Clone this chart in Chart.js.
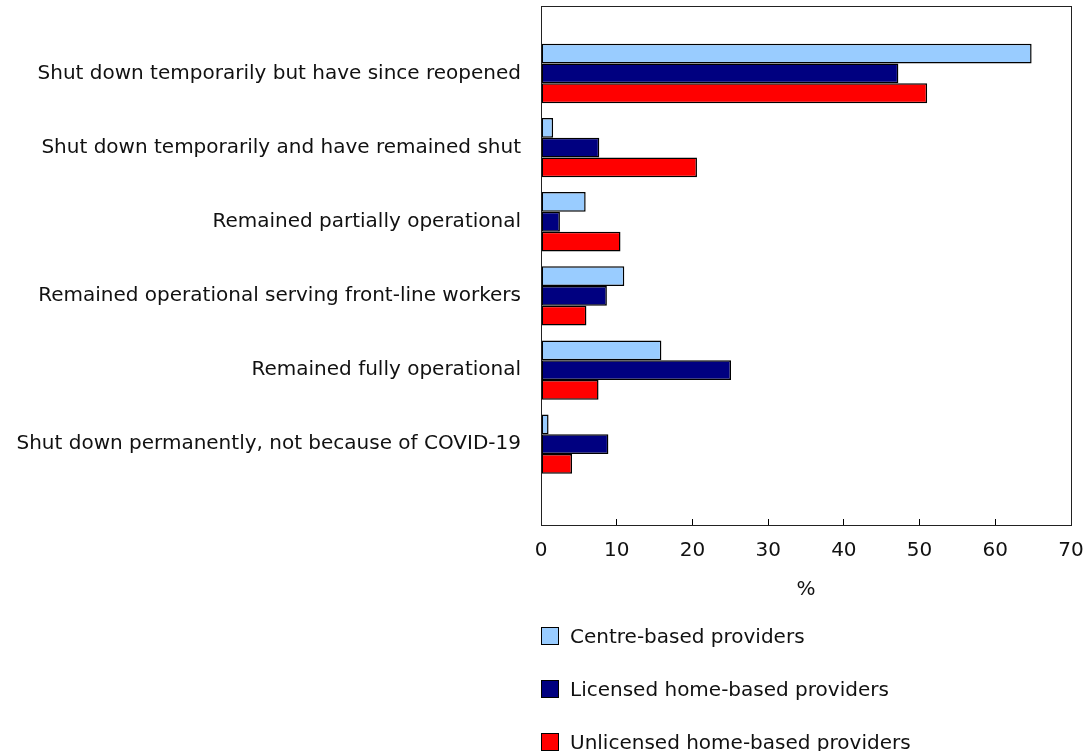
<!DOCTYPE html>
<html>
<head>
<meta charset="utf-8">
<script src="https://cdn.jsdelivr.net/npm/chart.js@4/dist/chart.umd.min.js"></script>
<style>
  html, body { margin: 0; padding: 0; background: #fff; }
  #wrap { position: relative; width: 1085px; height: 751px; }
  canvas { position: absolute; left: 0; top: 0; }
  #legend { position: absolute; left: 541px; top: 624px; font-family: "DejaVu Sans", Verdana, sans-serif; font-size: 20px; color: #111; }
  .item { display: flex; align-items: center; height: 24px; margin-bottom: 29px; white-space: nowrap; }
  .box { width: 18px; height: 18px; border: 1px solid #000; margin-right: 11px; box-sizing: border-box; flex: none; }
</style>
</head>
<body>
<div id="wrap">
  <canvas id="c" width="1085" height="751"></canvas>
  <div id="legend"></div>
</div>
<script>
const categories = [
  "Shut down temporarily but have since reopened",
  "Shut down temporarily and have remained shut",
  "Remained partially operational",
  "Remained operational serving front-line workers",
  "Remained fully operational",
  "Shut down permanently, not because of COVID-19"
];
const centreBased = [64.8, 1.6, 5.9, 11.0, 15.9, 1.0];
const licensedHome = [47.2, 7.7, 2.5, 8.7, 25.1, 8.9];
const unlicensedHome = [51.0, 20.6, 10.5, 6.0, 7.6, 4.1];
const seriesNames = ["Centre-based providers", "Licensed home-based providers", "Unlicensed home-based providers"];
const xTicks = [0, 10, 20, 30, 40, 50, 60, 70];

const FONT = '"DejaVu Sans", Verdana, sans-serif';
const yPos = categories.map((_, i) => i + 0.91);
const toPts = arr => arr.map((v, i) => ({ x: v, y: yPos[i] }));

const frame = {
  id: 'frame',
  afterDraw(chart) {
    const a = chart.chartArea, ctx = chart.ctx;
    ctx.save();
    ctx.strokeStyle = '#222';
    ctx.lineWidth = 1;
    ctx.strokeRect(Math.round(a.left) + 0.5, Math.round(a.top) + 0.5, Math.round(a.right - a.left), Math.round(a.bottom - a.top));
    ctx.restore();
  }
};

const colors = ['#99ccff', '#000080', '#ff0000'];
const chart = new Chart(document.getElementById('c'), {
  type: 'bar',
  data: {
    datasets: [centreBased, licensedHome, unlicensedHome].map((arr, k) => ({
      label: seriesNames[k],
      data: toPts(arr),
      backgroundColor: colors[k],
      borderColor: '#000',
      borderWidth: 1.5,
      borderSkipped: false,
      categoryPercentage: 0.8,
      barPercentage: 1.0
    }))
  },
  options: {
    indexAxis: 'y',
    responsive: false,
    animation: false,
    layout: { padding: { top: 6, right: 14, left: 0, bottom: 146 } },
    plugins: { legend: { display: false }, tooltip: { enabled: false } },
    scales: {
      x: {
        type: 'linear',
        min: 0, max: 70,
        afterBuildTicks: s => { s.ticks = xTicks.map(v => ({ value: v })); },
        afterFit: s => { s.height = 80; s.paddingLeft = 0; s.paddingRight = 0; },
        grid: { drawOnChartArea: false, drawTicks: true, tickLength: -6, color: '#000', tickWidth: 1 },
        border: { display: true, color: '#000', width: 1 },
        ticks: { color: '#111', font: { family: FONT, size: 20 }, padding: 20, autoSkip: false, maxRotation: 0 },
        title: { display: true, text: '%', color: '#111', font: { family: FONT, size: 20 }, padding: { top: 0, bottom: 3 } }
      },
      y: {
        type: 'linear',
        reverse: true,
        offset: false,
        min: 0, max: 7,
        afterBuildTicks: s => { s.ticks = yPos.map(v => ({ value: v })); },
        afterFit: s => { s.width = 541; s.paddingTop = 0; s.paddingBottom = 0; },
        grid: { display: false, drawTicks: false },
        border: { display: true, color: '#000', width: 1 },
        ticks: {
          color: '#111', font: { family: FONT, size: 20 }, padding: 20, autoSkip: false,
          callback: (v, i) => categories[i]
        }
      }
    }
  },
  plugins: [frame]
});

const lg = document.getElementById('legend');
chart.data.datasets.forEach(ds => {
  const it = document.createElement('div'); it.className = 'item';
  const b = document.createElement('span'); b.className = 'box'; b.style.background = ds.backgroundColor;
  const t = document.createElement('span'); t.textContent = ds.label;
  it.appendChild(b); it.appendChild(t); lg.appendChild(it);
});
</script>
</body>
</html>
